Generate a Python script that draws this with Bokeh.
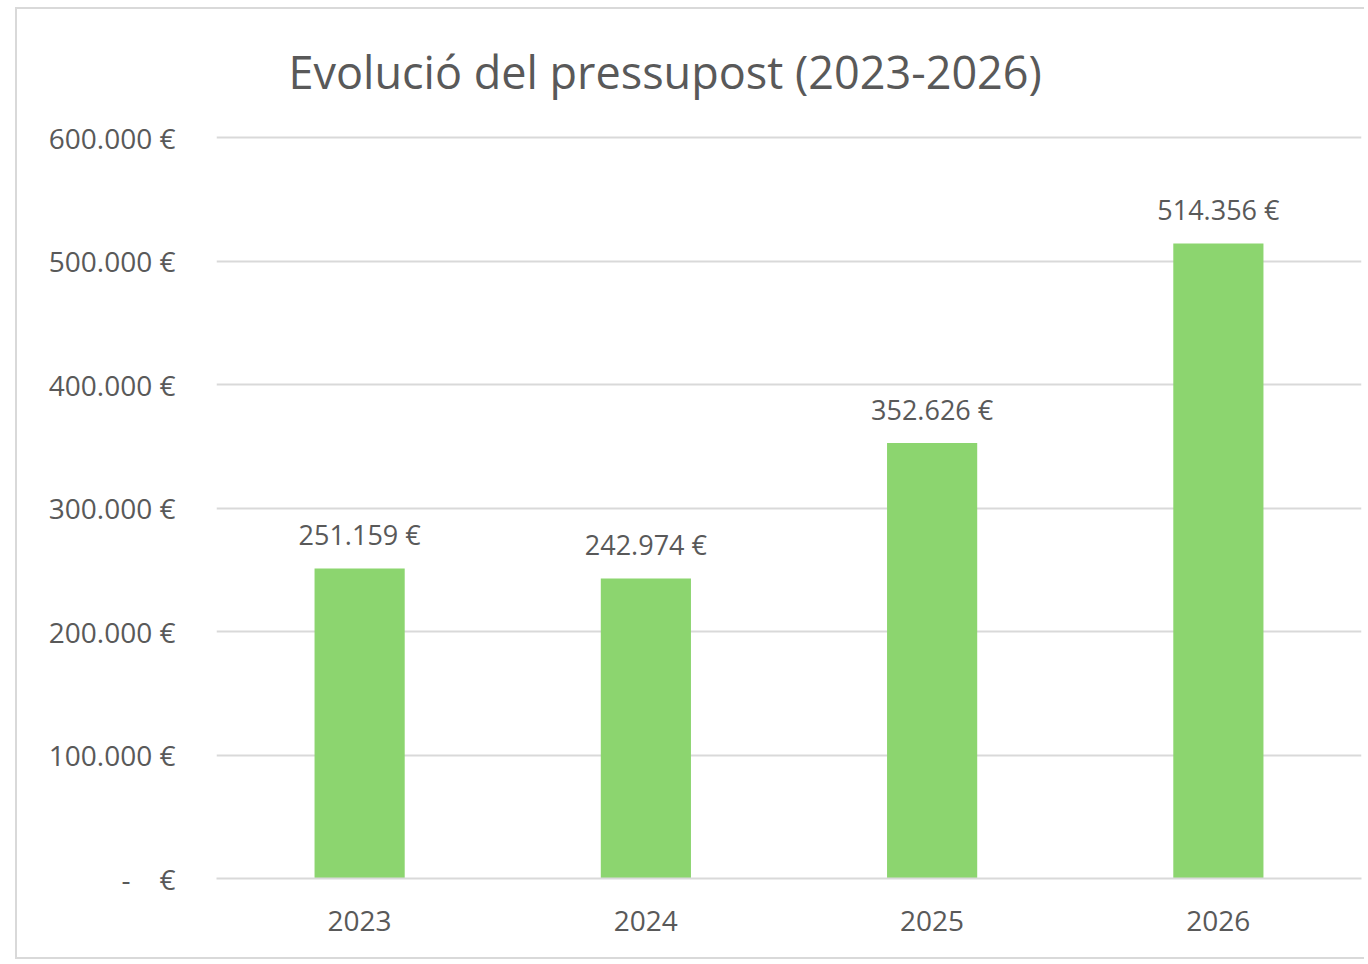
from bokeh.plotting import figure
from bokeh.models import ColumnDataSource, FixedTicker, Range1d, LabelSet
from bokeh.core.properties import value
from bokeh.embed import file_html
from bokeh.resources import INLINE

title_text = "Evolució del pressupost (2023-2026)"
years = ["2023", "2024", "2025", "2026"]
values = [251159, 242974, 352626, 514356]
value_labels = ["251.159 €", "242.974 €", "352.626 €", "514.356 €"]
y_ticks = [0, 100000, 200000, 300000, 400000, 500000, 600000]
y_tick_labels = ["-\u00a0\u00a0\u00a0\u00a0€", "100.000 €", "200.000 €", "300.000 €",
                 "400.000 €", "500.000 €", "600.000 €"]

FONT = "Open Sans"
TXT = "#595959"

src = ColumnDataSource(dict(x=years, top=values, label=value_labels))

p = figure(x_range=years, y_range=Range1d(0, 605000),
           width=1349, height=952, output_backend="svg", toolbar_location=None,
           title=title_text,
           min_border_left=199, min_border_right=5, min_border_top=122, min_border_bottom=83)
p.margin = (7, 0, 0, 15)
p.styles = {"border-left": "2px solid #d9d9d9", "border-top": "2px solid #d9d9d9",
            "border-bottom": "2px solid #d9d9d9"}

p.title.text_font = FONT
p.title.text_font_size = "45px"
p.title.text_font_style = "normal"
p.title.text_color = TXT
p.title.align = "left"
p.title.vertical_align = "top"
p.title.offset = 72
p.title.standoff = 56

p.vbar(x="x", top="top", width=0.315, source=src, color="#8cd56f", line_color=None)

labels = LabelSet(x="x", y="top", text="label", source=src, text_align="center",
                  text_baseline="alphabetic", y_offset=23, text_font_size="27px",
                  text_color=TXT, text_font=value(FONT))
p.add_layout(labels)

p.outline_line_color = None
p.xgrid.grid_line_color = None
p.ygrid.grid_line_color = "#d9d9d9"
p.ygrid.grid_line_width = 2
p.yaxis.ticker = FixedTicker(ticks=y_ticks)
p.yaxis.major_label_overrides = {t: l for t, l in zip(y_ticks, y_tick_labels)}
p.yaxis.axis_line_color = None
p.yaxis.major_tick_line_color = None
p.yaxis.minor_tick_line_color = None
p.yaxis.major_label_standoff = 35
p.yaxis.major_label_text_font = FONT
p.yaxis.major_label_text_font_size = "28px"
p.yaxis.major_label_text_color = TXT

p.xaxis.axis_line_color = "#d9d9d9"
p.xaxis.axis_line_width = 2
p.xaxis.major_tick_line_color = None
p.xaxis.minor_tick_line_color = None
p.xaxis.major_label_standoff = 26
p.xaxis.major_label_text_font = FONT
p.xaxis.major_label_text_font_size = "28px"
p.xaxis.major_label_text_color = TXT
p.x_range.range_padding = 0

open("out.html", "w").write(file_html(p, INLINE))
